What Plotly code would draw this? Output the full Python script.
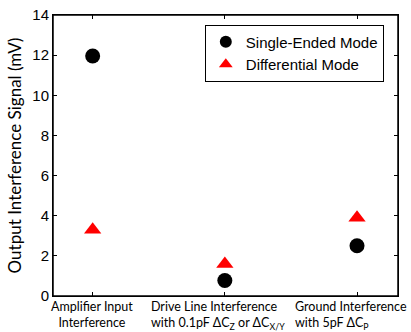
import plotly.graph_objects as go

categories = [1, 2, 3]
tick_labels = [
    "Amplifier Input<br>Interference",
    "Drive Line Interference<br>with 0.1pF ΔC<sub>Z</sub> or ΔC<sub>X/Y</sub>",
    "Ground Interference<br>with 5pF ΔC<sub>P</sub>",
]
single_ended = [11.96, 0.77, 2.5]
differential = [3.3, 1.59, 3.9]

# label styling (alignment of the multi-line category labels, as in the original)
label_align = ["center", "left", "left"]
label_xshift = [-1, -7, -6]

fig = go.Figure()
fig.add_trace(go.Scatter(
    x=categories, y=single_ended, mode="markers", name="Single-Ended Mode",
    marker=dict(symbol="circle", size=15, color="black"),
))
fig.add_trace(go.Scatter(
    x=categories, y=differential, mode="markers", name="Differential Mode",
    marker=dict(symbol="triangle-up", size=15, color="red"),
))

annotations = [
    dict(x=c, y=0, xref="x", yref="paper", text=t, showarrow=False,
         xanchor="center", yanchor="top", align=a, xshift=s, yshift=-1,
         font=dict(family="Lato, Open Sans", size=12.5, color="black"))
    for c, t, a, s in zip(categories, tick_labels, label_align, label_xshift)
]

fig.update_layout(
    width=411, height=332,
    margin=dict(l=53, r=13, t=15, b=36, autoexpand=False),
    plot_bgcolor="white", paper_bgcolor="white",
    font=dict(family="Liberation Sans, Arial", size=15, color="black"),
    legend=dict(
        x=0.44, y=0.966, xanchor="left", yanchor="top",
        bordercolor="black", borderwidth=1, bgcolor="white",
        font=dict(size=15), tracegroupgap=0, itemsizing="constant",
    ),
    xaxis=dict(
        range=[0.7, 3.31], tickvals=categories, showticklabels=False,
        ticks="inside", ticklen=4, tickcolor="black",
        showline=True, linecolor="black", linewidth=1, mirror="allticks",
        showgrid=False, zeroline=False, automargin=False,
    ),
    yaxis=dict(
        range=[0, 14], dtick=2,
        ticks="inside", ticklen=4, tickcolor="black",
        showline=True, linecolor="black", linewidth=1, mirror="allticks",
        showgrid=False, zeroline=False, automargin=False,
        tickfont=dict(size=15),
        title=dict(text="Output Interference Signal (mV)",
                   font=dict(family="Lato, Open Sans", size=17), standoff=6),
    ),
    annotations=annotations,
    shapes=[dict(type="rect", xref="paper", yref="paper", x0=0, y0=0, x1=1, y1=1,
                 line=dict(color="black", width=1.5), layer="above")],
)

fig.write_html(
    "out.html",
    config={"displayModeBar": False},
    post_script="document.body.style.margin='0';document.body.style.overflow='hidden';",
)
